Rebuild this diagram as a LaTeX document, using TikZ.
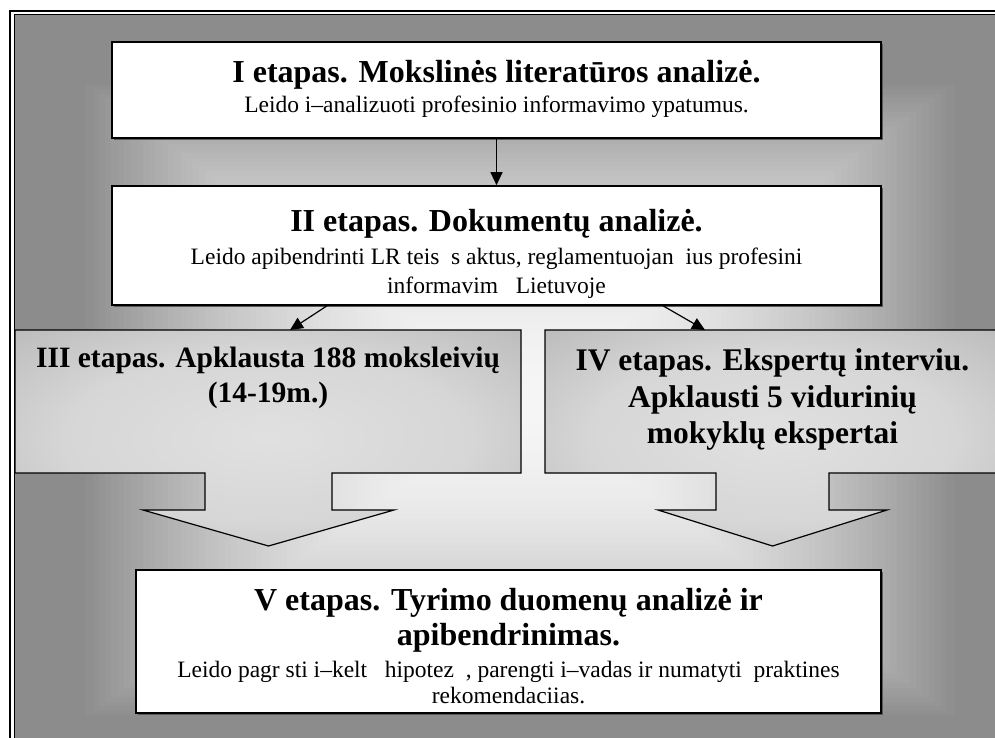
\documentclass[tikz,border=0pt]{standalone}
\usepackage{fontspec}
\setmainfont{Liberation Serif}
\usetikzlibrary{arrows.meta,calc}
\pgfdeclareradialshading{cshade}{\pgfpoint{0bp}{0bp}}{color(0bp)=(black!12); color(20bp)=(black!16); color(50bp)=(black!36); color(75bp)=(black!40)}
\begin{document}
\begin{tikzpicture}[x=1pt,y=-1pt,
  box/.style={draw=black,line width=1.6pt,fill=white,inner sep=0pt},
  shadow/.style={fill=black!65},
  hd/.style={font=\fontsize{32}{36}\selectfont\bfseries,inner sep=0pt,anchor=base},
  sb/.style={font=\fontsize{23.5}{27}\selectfont,inner sep=0pt,anchor=base},
  arr/.style={line width=1.2pt,-{Triangle[length=13pt,width=12pt]}},
  callout/.style={draw=black,line width=1.2pt,shading=cshade}]

\useasboundingbox (0,0) rectangle (995,737);
\clip (0,0) rectangle (995,737);
\fill[white] (0,0) rectangle (995,737);

% background box gradient
\fill[black!45] (14,14) rectangle (1020,760);
\foreach \i in {1,...,70}{
  \pgfmathsetmacro\t{1-\i/70}
  \pgfmathsetmacro\g{(245-105*\t*\t)/255}
  \definecolor{bgc}{gray}{\g}
  \fill[bgc] ({520-440*\t},{400-320*\t}) rectangle ({520+440*\t},{400+320*\t});
}

% frame
\draw[line width=2.5pt] (9.75,10.75) rectangle (1030,770);
\draw[line width=1pt] (14,14.5) rectangle (1020,760);

% boxes I, II
\fill[shadow] (114,44) rectangle (883,140);
\fill[shadow] (114,188) rectangle (883,307);
\node[box, minimum width=769pt, minimum height=96pt] (I) at (496.5,90) {};
\node[box, minimum width=769pt, minimum height=119pt] (II) at (496.5,245.5) {};

\node[hd] (I1) at (496.5,82) {I etapas. Mokslinės literatūros analizė.};
\node[sb] (I2) at (496.5,112) {Leido i–analizuoti profesinio informavimo ypatumus.};

\node[hd] (II1) at (496.5,231) {II etapas. Dokumentų analizė.};
\node[sb] (II2) at (496.5,264) {Leido apibendrinti LR teis~~s aktus, reglamentuojan~~ius profesini};
\node[sb] (II3) at (496.5,293) {informavim~~~Lietuvoje};

% callouts III and IV
\shadedraw[callout] (15,330) -- (521,330) -- (521,473) -- (332,473) -- (332,510) -- (394,510)
  -- (268.5,546) -- (143,510) -- (205,510) -- (205,473) -- (15,473) -- cycle;
\shadedraw[callout] (545,330) -- (1000,330) -- (1000,473) -- (829,473) -- (829,510) -- (887,510)
  -- (772.5,546) -- (658,510) -- (716,510) -- (716,473) -- (545,473) -- cycle;
\coordinate (III) at (268,330);
\coordinate (IV) at (772.5,330);

\node[hd, font=\fontsize{29.5}{34}\selectfont\bfseries] (III1) at (268,367) {III etapas. Apklausta 188 moksleivių};
\node[hd, font=\fontsize{29.5}{34}\selectfont\bfseries] (III2) at (268,402) {(14-19m.)};

\node[hd, font=\fontsize{31.5}{36}\selectfont\bfseries] (IV1) at (772.5,370) {IV etapas. Ekspertų interviu.};
\node[hd, font=\fontsize{31.5}{36}\selectfont\bfseries] (IV2) at (772.5,407) {Apklausti 5 vidurinių};
\node[hd, font=\fontsize{31.5}{36}\selectfont\bfseries] (IV3) at (772.5,443) {mokyklų ekspertai};

% box V
\fill[shadow] (138,572) rectangle (883,715);
\node[box, minimum width=745pt, minimum height=143pt] (V) at (508.5,641.5) {};
\node[hd] (V1) at (508.5,610) {V etapas. Tyrimo duomenų analizė ir};
\node[hd] (V2) at (508.5,645) {apibendrinimas.};
\node[sb] (V3) at (508.5,677) {Leido pagr~sti i–kelt~~~hipotez~~, parengti i–vadas ir numatyti~~praktines};
\node[sb] (V4) at (508.5,703) {rekomendaciias.};

% connectors
\draw[arr] (I.south) -- (II.north);
\draw[arr] ([xshift=-169.5pt]II.south) -- ([xshift=22pt]III);
\draw[arr] ([xshift=166.5pt]II.south) -- ([xshift=-67.5pt]IV);
\end{tikzpicture}
\end{document}
